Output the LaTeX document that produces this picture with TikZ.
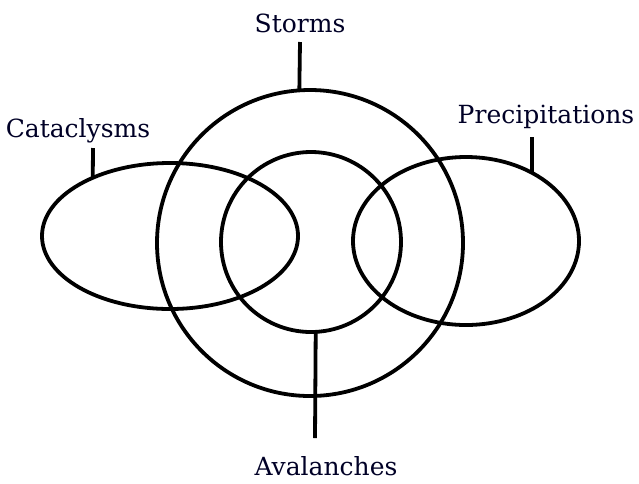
\documentclass[tikz,border=0pt]{standalone}
\usepackage{fontspec}
\setmainfont{DejaVu Serif}
\usetikzlibrary{positioning,shapes.geometric}

\tikzset{
  setline/.style={draw, line width=3.8pt, inner sep=0pt, outer sep=0pt},
  setlabel/.style={anchor=base, text=black!85!blue, font=\fontsize{25}{30}\selectfont},
  tick/.style={line width=3.8pt}
}

\begin{document}
\begin{tikzpicture}[x=1pt, y=-1pt]
    \useasboundingbox (0,0) rectangle (639,483);

    % The four sets
    \node[setline, circle, minimum size=306pt] (storms) at (310,243) {};
    \node[setline, circle, minimum size=180pt] (aval) at (311,242) {};
    \node[setline, ellipse, minimum width=256pt, minimum height=146pt] (cata) at (170,236) {};
    \node[setline, ellipse, minimum width=226pt, minimum height=168pt] (prec) at (466,241) {};

    % Labels
    \node[setlabel] (stormsLabel) at (300,32) {Storms};
    \node[setlabel] (cataLabel) at (78,137) {Cataclysms};
    \node[setlabel] (precLabel) at (546,123) {Precipitations};
    \node[setlabel] (avalLabel) at (326,475) {Avalanches};

    % Tick ends next to the labels
    \coordinate (stormsTick) at (300,42);
    \coordinate (cataTick) at (93,148);
    \coordinate (precTick) at (532,137);
    \coordinate (avalTick) at (315,438);

    % Ticks from labels to the sets
    \draw[tick] (stormsTick) -- (storms.94);
    \draw[tick] (cataTick) -- (cata.143);
    \draw[tick] (precTick) -- (prec.46);
    \draw[tick] (avalTick) -- (aval.-87);
\end{tikzpicture}
\end{document}
